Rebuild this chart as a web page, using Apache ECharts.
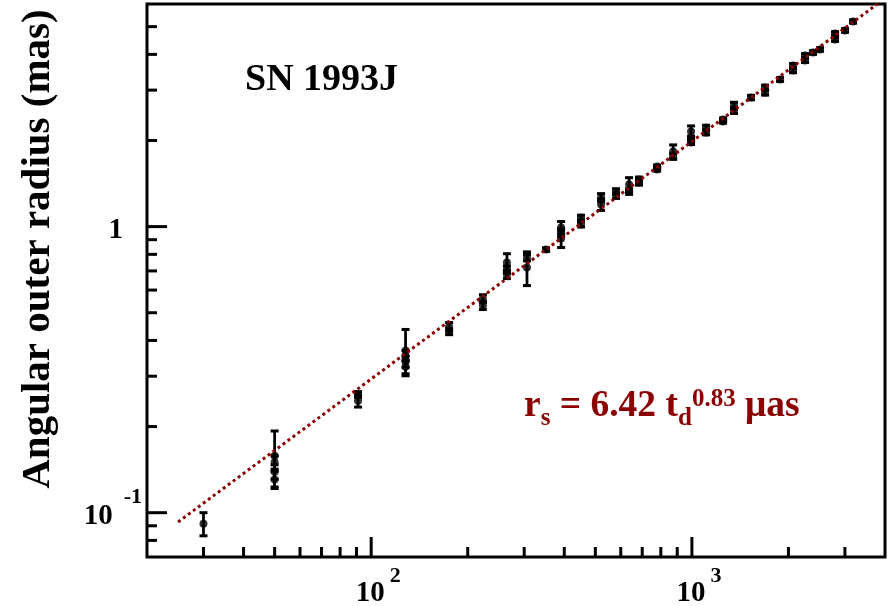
<!DOCTYPE html>
<html><head><meta charset="utf-8">
<script src="https://cdn.jsdelivr.net/npm/echarts@6/dist/echarts.min.js"></script>
<style>html,body{margin:0;padding:0;background:#fff}#c{width:895px;height:606px}</style>
</head><body><div id="c"></div>
<script>
// Observation epochs (days since explosion), angular outer radius (mas) and 1-sigma errors
const days = [30,50,50,50,50,91,91,128,128,128,128,175,175,223,223,265,265,265,306,306,351,391,391,391,451,451,521,521,580,580,637,637,684,684,779,779,874,874,994,994,994,1107,1107,1251,1251,1353,1353,1529,1691,1691,1883,2067,2067,2253,2253,2387,2509,2795,2795,3003,3181];
const radius = [0.0915,0.158,0.150,0.139,0.1305,0.259,0.246,0.369,0.354,0.337,0.324,0.447,0.430,0.560,0.530,0.749,0.708,0.680,0.779,0.719,0.831,0.992,0.953,0.908,1.076,1.017,1.264,1.194,1.326,1.284,1.403,1.326,1.460,1.426,1.622,1.583,1.830,1.758,2.149,2.032,1.967,2.220,2.132,2.368,2.330,2.650,2.545,2.826,3.063,2.942,3.268,3.657,3.513,3.964,3.807,4.061,4.160,4.732,4.510,4.848,5.212];
const radiusErr = [0.0085,0.035,0.008,0.008,0.009,0.006,0.012,0.068,0.015,0.015,0.018,0.015,0.011,0.018,0.017,0.055,0.02,0.022,0.02,0.097,0.012,0.05,0.03,0.063,0.02,0.02,0.04,0.055,0.03,0.03,0.08,0.03,0.03,0.03,0.02,0.02,0.1,0.04,0.1,0.04,0.03,0.04,0.04,0.03,0.03,0.07,0.06,0.05,0.06,0.06,0.05,0.06,0.06,0.06,0.06,0.06,0.06,0.07,0.07,0.07,0.07];
// Power-law fit r_s = 6.42 t_d^0.83 uas, end points
const fitDays = [25, 3790];
const fitRadius = [0.0928, 6.0];
// Axis extents and ticks
const xRange = [20, 4000];
const yRange = [0.07, 6];
const xMajorTicks = [100, 1000];
const xMinorTicks = [30,40,50,60,70,80,90,200,300,400,500,600,700,800,900,2000,3000];
const yMajorTicks = [0.1, 1];
const yMinorTicks = [0.08,0.09,0.2,0.3,0.4,0.5,0.6,0.7,0.8,0.9,2,3,4,5];

const FONT = "'Liberation Serif','Times New Roman',serif";
const RED = '#8b0000';
const chart = echarts.init(document.getElementById('c'), null, {renderer:'canvas'});

function isPow10(v){ const l = Math.log10(v); return Math.abs(l - Math.round(l)) < 1e-6; }

function tickSeries(values, len, isX){
  return {
    type:'custom', silent:true, z:5, clip:false,
    data: values.map(v => isX ? [v, yRange[0]] : [xRange[0], v]),
    encode:{x:0,y:1},
    renderItem(params, api){
      const cs = params.coordSys;
      const p = api.coord([api.value(0), api.value(1)]);
      let shape;
      if (isX) { const yb = cs.y + cs.height; shape = {x1:p[0], y1:yb, x2:p[0], y2:yb - len}; }
      else { const xl = cs.x; shape = {x1:xl, y1:p[1], x2:xl + len, y2:p[1]}; }
      return {type:'line', shape, style:{stroke:'#000', lineWidth:3}};
    }
  };
}

const errData = days.map((d,i) => [d, radius[i]-radiusErr[i], radius[i]+radiusErr[i]]);

chart.setOption({
  animation:false,
  backgroundColor:'#fff',
  grid:{left:147, right:10, top:4, bottom:49, show:true, borderColor:'#000', borderWidth:3, backgroundColor:'transparent', containLabel:false, outerBoundsMode:'none'},
  xAxis:{
    type:'log', logBase:10, min:xRange[0], max:xRange[1],
    axisLine:{show:false}, axisTick:{show:false}, splitLine:{show:false}, minorTick:{show:false},
    axisLabel:{
      margin:8,
      formatter(v){ if(!isPow10(v)) return ''; return '{p|}{b|10}{s|' + Math.round(Math.log10(v)) + '}'; },
      rich:{
        p:{width:14},
        b:{fontFamily:FONT, fontWeight:'bold', fontSize:29, color:'#000', verticalAlign:'bottom', lineHeight:43},
        s:{fontFamily:FONT, fontWeight:'bold', fontSize:22, color:'#000', verticalAlign:'top', padding:[0,0,0,5]}
      }
    }
  },
  yAxis:{
    type:'log', logBase:10, min:yRange[0], max:yRange[1],
    axisLine:{show:false}, axisTick:{show:false}, splitLine:{show:false}, minorTick:{show:false},
    axisLabel:{
      margin:5,
      formatter(v){
        if(!isPow10(v)) return '';
        const e = Math.round(Math.log10(v));
        if (e === 0) return '{b|1}{p|}';
        return '{b|10}{s|' + e + '}';
      },
      rich:{
        p:{width:19},
        b:{fontFamily:FONT, fontWeight:'bold', fontSize:29, color:'#000', verticalAlign:'bottom', lineHeight:52, padding:[0,0,8,0]},
        s:{fontFamily:FONT, fontWeight:'bold', fontSize:22, color:'#000', verticalAlign:'top', padding:[0,0,0,11]}
      }
    }
  },
  graphic:[
    {type:'text', x:38, y:249, rotation:Math.PI/2, z:10,
     style:{text:'Angular outer radius (mas)', fontFamily:FONT, fontWeight:'bold', fontSize:41, fill:'#000', align:'center', verticalAlign:'middle'}},
    {type:'text', x:245, y:80, z:10,
     style:{text:'SN 1993J', fontFamily:FONT, fontWeight:'bold', fontSize:38, fill:'#000', align:'left', verticalAlign:'middle'}},
    {type:'text', x:524, y:406, z:10,
     style:{
       text:'{m|r}{sub|s}{m| = 6.42 t}{sub|d}{sup|0.83}{m| μas}',
       align:'left', verticalAlign:'middle',
       rich:{
         m:{fontFamily:FONT, fontWeight:'bold', fontSize:37.5, fill:RED, color:RED, lineHeight:51, verticalAlign:'middle'},
         sub:{fontFamily:FONT, fontWeight:'bold', fontSize:25, fill:RED, color:RED, verticalAlign:'bottom'},
         sup:{fontFamily:FONT, fontWeight:'bold', fontSize:25, fill:RED, color:RED, verticalAlign:'top', padding:[7,0,0,0]}
       }
     }}
  ],
  series:[
    {
      type:'line', data: fitDays.map((d,i)=>[d, fitRadius[i]]), showSymbol:false, symbol:'none', z:3,
      lineStyle:{color:RED, width:3, type:[3,3.2]}, silent:true
    },
    {
      type:'custom', z:2, silent:true,
      data: errData, encode:{x:0, y:[1,2]},
      renderItem(params, api){
        const x = api.value(0), lo = api.value(1), hi = api.value(2);
        const a = api.coord([x, hi]), b = api.coord([x, lo]);
        const w = 4;
        const st = {stroke:'#000', lineWidth:3};
        return {type:'group', children:[
          {type:'line', shape:{x1:a[0], y1:a[1], x2:b[0], y2:b[1]}, style:{stroke:'#000', lineWidth:2.8}},
          {type:'line', shape:{x1:a[0]-w, y1:a[1], x2:a[0]+w, y2:a[1]}, style:st},
          {type:'line', shape:{x1:b[0]-w, y1:b[1], x2:b[0]+w, y2:b[1]}, style:st}
        ]};
      }
    },
    {
      type:'scatter', data: days.map((d,i)=>[d, radius[i]]), symbol:'circle', symbolSize:8, z:2,
      itemStyle:{color:'#000'}, silent:true
    },
    tickSeries(xMajorTicks, 20, true),
    tickSeries(xMinorTicks, 10, true),
    tickSeries(yMajorTicks, 20, false),
    tickSeries(yMinorTicks, 10, false)
  ]
});
</script></body></html>
